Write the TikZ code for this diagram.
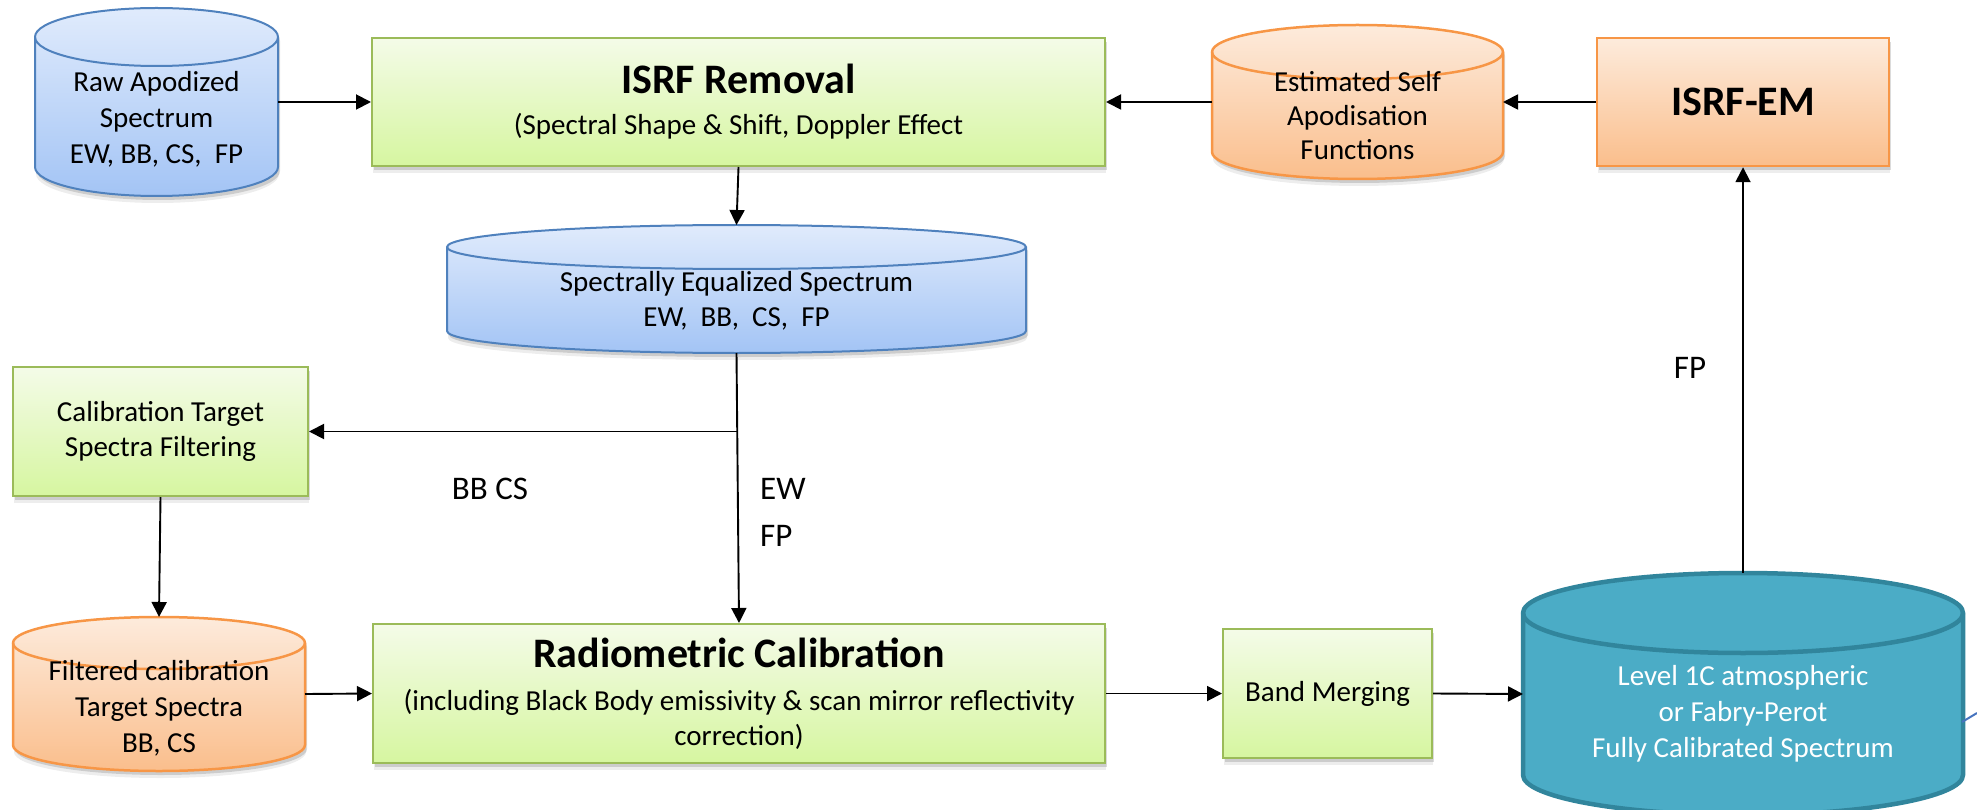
\documentclass[tikz,border=0pt]{standalone}
\usepackage{fontspec}
\setmainfont{Carlito}
\usetikzlibrary{arrows.meta,shadows}

\definecolor{bluetop}{RGB}{224,235,252}
\definecolor{bluebot}{RGB}{163,196,245}
\definecolor{blueborder}{RGB}{79,129,189}
\definecolor{greentop}{RGB}{244,251,232}
\definecolor{greenbot}{RGB}{214,246,160}
\definecolor{greenborder}{RGB}{155,187,89}
\definecolor{orangetop}{RGB}{253,235,220}
\definecolor{orangebot}{RGB}{250,190,140}
\definecolor{orangeborder}{RGB}{247,150,70}
\definecolor{tealfill}{RGB}{75,172,198}
\definecolor{tealborder}{RGB}{49,133,156}
\definecolor{stray}{RGB}{70,115,190}

\newcommand\drawcyl[7]{%
  \path[#1] (#3,#5+#7) -- (#3,#6-#7)
    arc[start angle=180,end angle=0,x radius={(#4-#3)/2},y radius=#7]
    -- (#4,#5+#7)
    arc[start angle=0,end angle=-180,x radius={(#4-#3)/2},y radius=#7] -- cycle;
  \draw[#2] (#3,#5+#7) arc[start angle=180,end angle=0,x radius={(#4-#3)/2},y radius=#7];
}

\tikzset{
  sh/.style={
    drop shadow={shadow xshift=1pt,shadow yshift=-7pt,opacity=0.10,fill=black!70},
    drop shadow={shadow xshift=2pt,shadow yshift=-4pt,opacity=0.20,fill=black!70}},
  box/.style={draw, line width=2pt, align=center, inner sep=0pt, font=\fontsize{29}{36}\selectfont},
  greenbox/.style={box, sh, draw=greenborder, top color=greentop, bottom color=greenbot},
  orangebox/.style={box, sh, draw=orangeborder, line width=2.5pt, top color=orangetop, bottom color=orangebot},
  bluecyl/.style={sh, draw=blueborder, line width=2pt, top color=bluetop, bottom color=bluebot},
  bluerim/.style={draw=blueborder, line width=2pt},
  orangecyl/.style={sh, draw=orangeborder, line width=2.5pt, top color=orangetop, bottom color=orangebot},
  orangerim/.style={draw=orangeborder, line width=2.5pt},
  tealcyl/.style={draw=tealborder, line width=4.5pt, fill=tealfill},
  tealrim/.style={draw=tealborder, line width=4.5pt},
  anchorbox/.style={inner sep=0pt, outer sep=0pt},
  cyltext/.style={inner sep=0pt, align=center, font=\fontsize{29}{36}\selectfont},
  conn/.style={line width=1.9pt, -{Triangle[length=15pt,width=15pt]}},
  lbl/.style={inner sep=0pt, align=left, font=\fontsize{33}{47}\selectfont},
}

\begin{document}
\begin{tikzpicture}[x=1pt,y=-1pt]
\useasboundingbox (0,0) rectangle (1977,810);
\clip (0,0) rectangle (1977,810);

% ---- cylinders (shapes) ----
\drawcyl{bluecyl}{bluerim}{35}{278}{8}{196}{29}
\drawcyl{orangecyl}{orangerim}{1212}{1503}{25}{179}{27}
\drawcyl{bluecyl}{bluerim}{447}{1026}{225}{353}{22}
\drawcyl{orangecyl}{orangerim}{13}{305}{617}{771}{26}
\drawcyl{tealcyl}{tealrim}{1523}{1963}{573}{815}{40}

% ---- cylinder anchor nodes ----
\node[anchorbox, minimum width=243pt, minimum height=188pt] (raw) at (156.5,102) {};
\node[anchorbox, minimum width=291pt, minimum height=154pt] (est) at (1357.5,102) {};
\node[anchorbox, minimum width=579pt, minimum height=128pt] (spec) at (736.5,289) {};
\node[anchorbox, minimum width=292pt, minimum height=154pt] (filt) at (159,694) {};
\node[anchorbox, minimum width=440pt, minimum height=242pt] (lvl) at (1743,694) {};

% ---- cylinder texts ----
\node[cyltext] (rawtxt) at (156.5,119) {Raw Apodized\\Spectrum\\EW, BB, CS,\ \ FP};
\node[cyltext, font=\fontsize{29}{34}\selectfont] (esttxt) at (1357.5,116) {Estimated Self\\Apodisation\\Functions};
\node[cyltext, font=\fontsize{29}{35}\selectfont] (spectxt) at (736.5,300.5) {Spectrally Equalized Spectrum\\EW,\ \ BB,\ \ CS,\ \ FP};
\node[cyltext] (filttxt) at (159,708) {Filtered calibration\\Target Spectra\\BB, CS};
\node[cyltext, text=white] (lvltxt) at (1743,714) {Level 1C atmospheric\\or Fabry-Perot\\Fully Calibrated Spectrum};

% ---- boxes ----
\node[greenbox, font=\fontsize{29}{41}\selectfont, minimum width=733pt, minimum height=128pt] (isrf) at (738.5,102)
  {{\fontsize{42}{41}\selectfont\bfseries ISRF Removal}\\(Spectral Shape \& Shift, Doppler Effect};
\node[orangebox, minimum width=292pt, minimum height=128pt] (em) at (1743,102)
  {{\fontsize{42}{41}\selectfont\bfseries ISRF-EM}};
\node[greenbox, font=\fontsize{29}{35}\selectfont, minimum width=295pt, minimum height=129pt] (calib) at (160.5,431.5)
  {Calibration Target\\Spectra Filtering};
\node[greenbox, font=\fontsize{29}{35}\selectfont, minimum width=732pt, minimum height=139pt] (rad) at (739,693.5)
  {{\fontsize{42}{41}\selectfont\bfseries Radiometric Calibration}\\[8pt](including Black Body emissivity \& scan mirror reflectivity\\correction)};
\node[greenbox, minimum width=209pt, minimum height=129pt] (bm) at (1327.5,693.5) {Band Merging};

% ---- connectors ----
\draw[conn] (raw.east) -- (isrf.west);
\draw[conn] (est.west) -- (isrf.east);
\draw[conn] (em.west) -- (est.east);
\draw[conn] (isrf.south) -- (spec.north);
\draw[conn] (spec.south) -- (rad.north);
\coordinate (branch) at (spec.south |- calib.east);
\draw[conn] (branch) -- (calib.east);
\draw[conn] (calib.south) -- (filt.north);
\draw[conn] (filt.east) -- (rad.west);
\draw[conn] (rad.east) -- (bm.west);
\draw[conn] (bm.east) -- (lvl.west);
\draw[conn] (lvl.north) -- (em.south);

% ---- labels ----
\node[lbl] (lfp) at (1690,368) {FP};
\node[lbl] (lbbcs) at (490,489) {BB CS};
\node[lbl, anchor=west] (lewfp) at (760,512) {EW\\FP};

% ---- stray fragment at right edge ----
\draw[stray, line width=2pt] (1962,722) .. controls (1967,719) and (1972,716) .. (1977,713);
\end{tikzpicture}
\end{document}
